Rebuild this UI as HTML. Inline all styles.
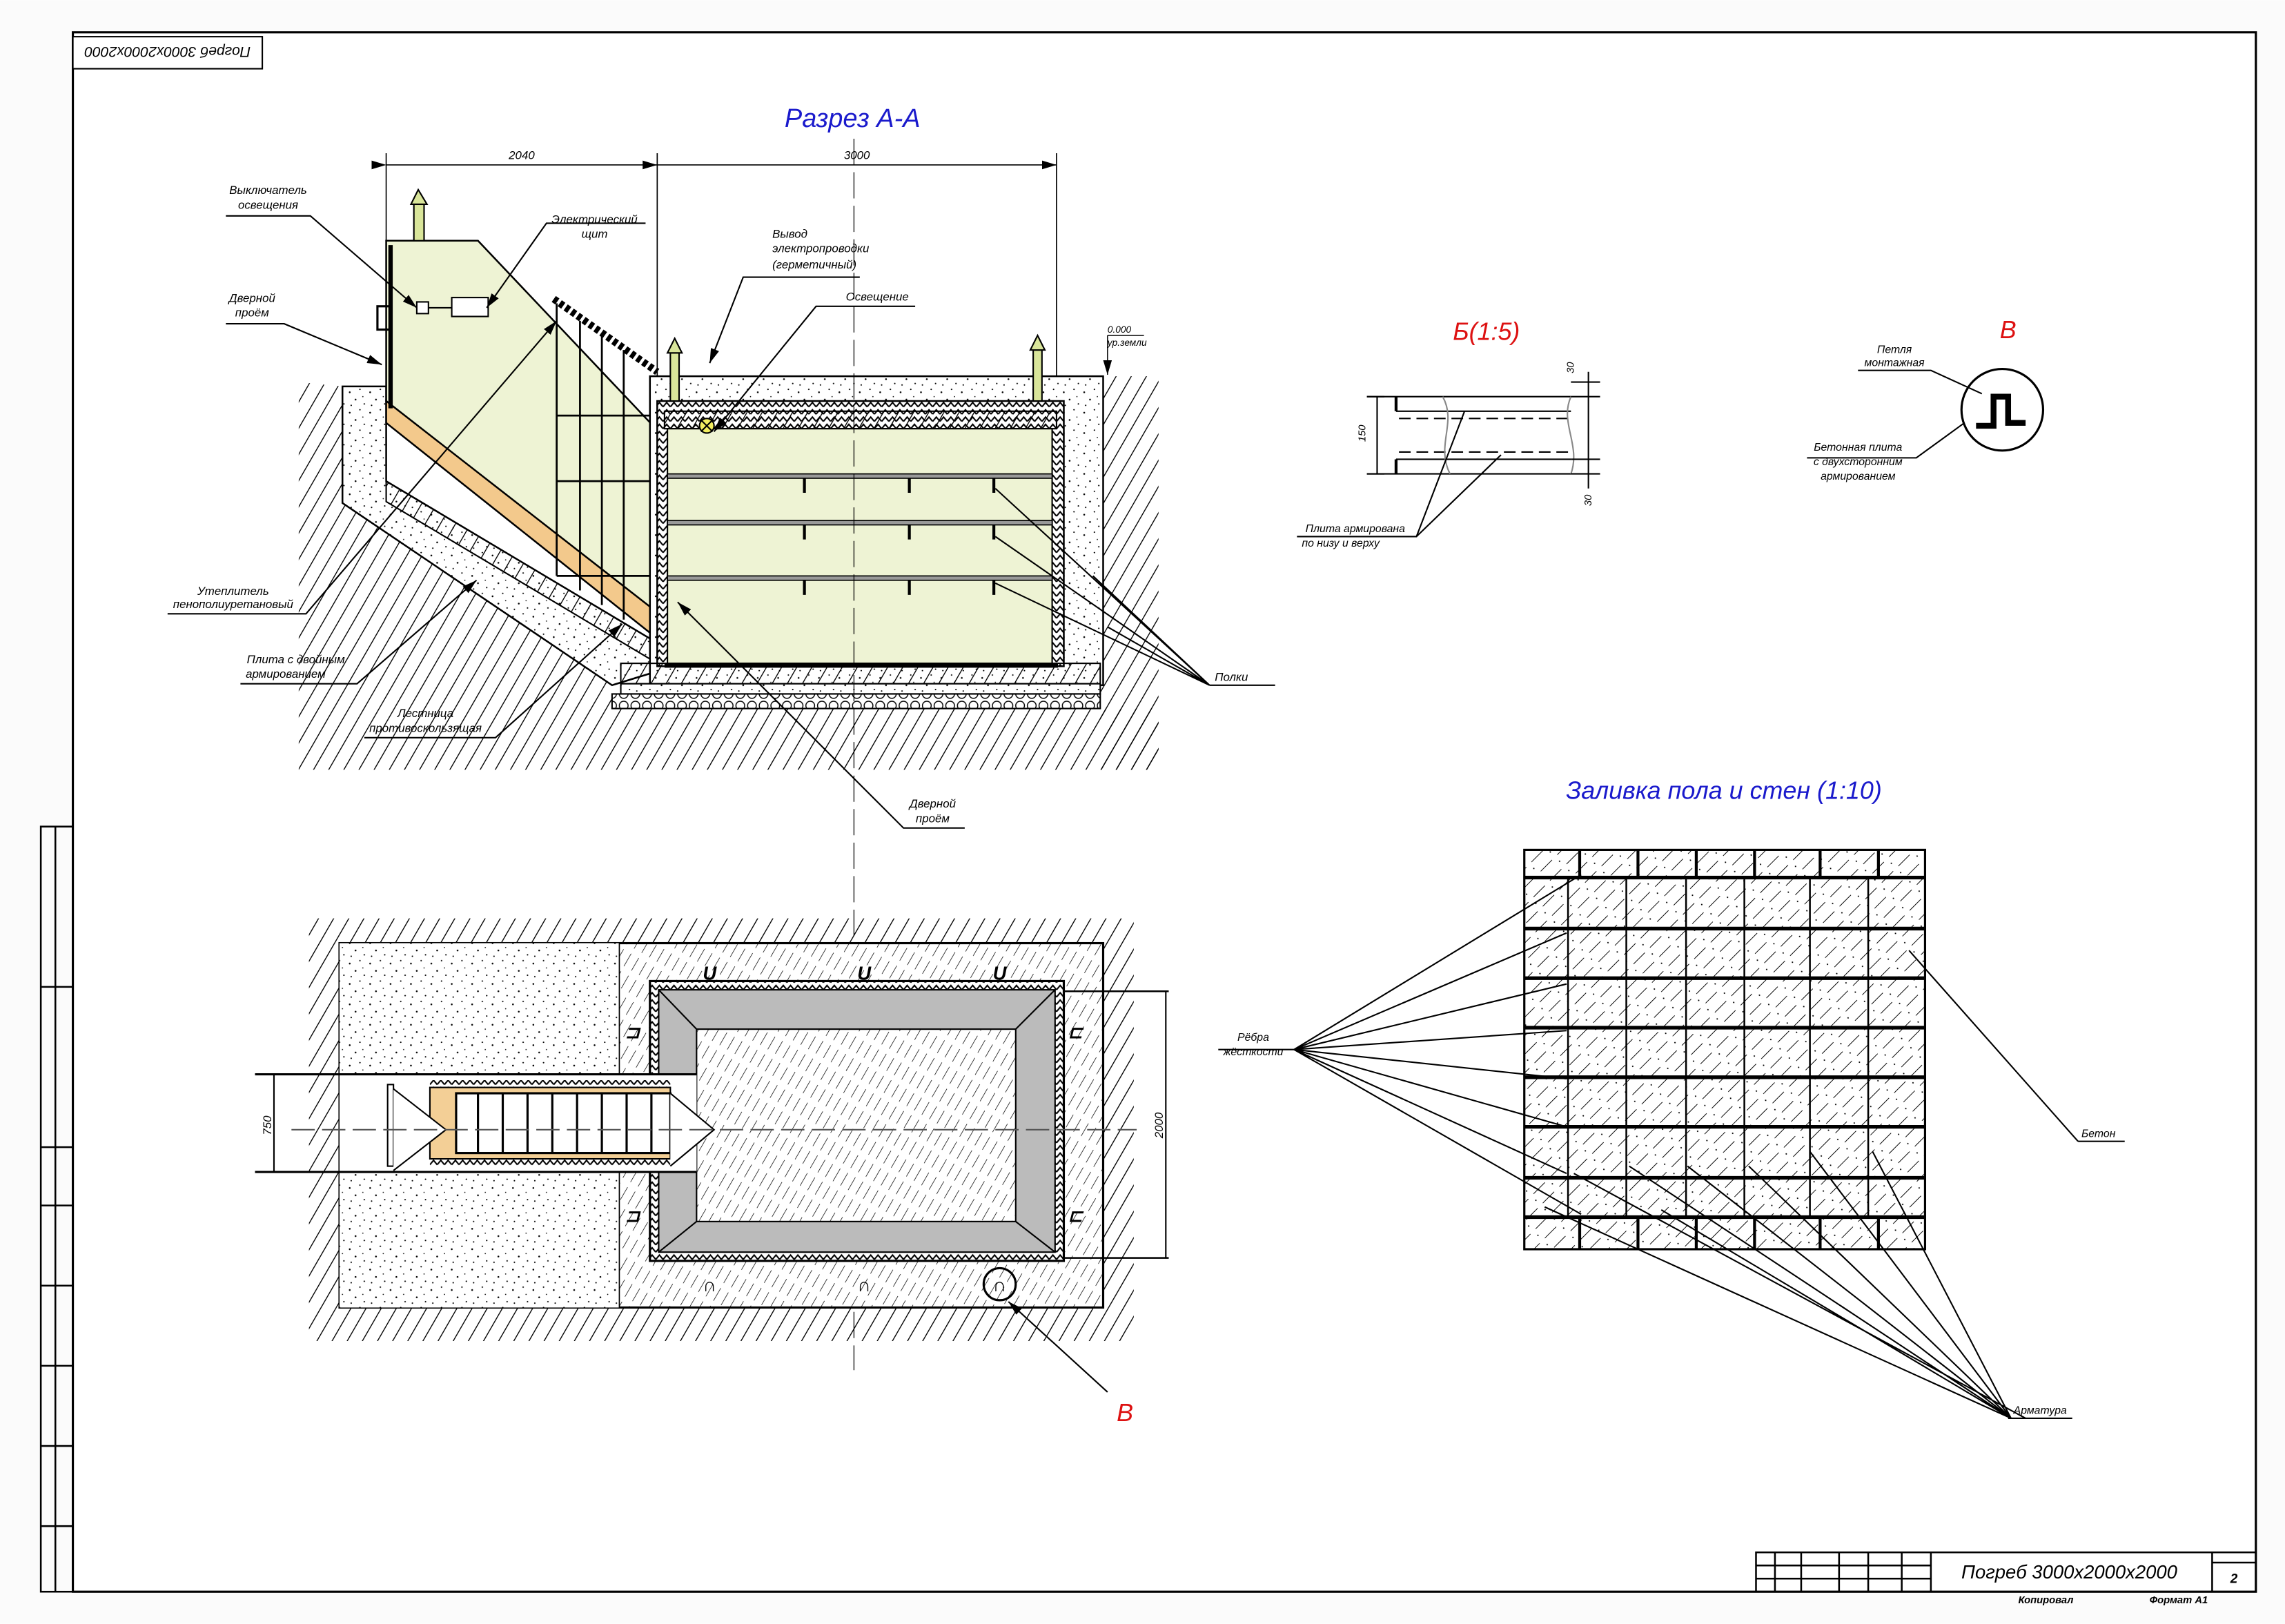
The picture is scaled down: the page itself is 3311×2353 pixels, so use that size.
<!DOCTYPE html>
<html><head><meta charset="utf-8"><style>body{margin:0;background:#fff}svg{display:block}text{font-family:"Liberation Sans",sans-serif;font-style:italic}</style></head><body>
<svg width="3311" height="2353" viewBox="0 0 1568 1114" xmlns="http://www.w3.org/2000/svg">
<defs>
<pattern id="h" width="9" height="9" patternUnits="userSpaceOnUse" patternTransform="rotate(30)"><line x1="0" y1="0" x2="0" y2="9" stroke="#000" stroke-width="1.3"/></pattern>
<pattern id="hd" width="6" height="14" patternUnits="userSpaceOnUse" patternTransform="rotate(30)"><line x1="0" y1="0" x2="0" y2="10" stroke="#000" stroke-width="0.7"/></pattern>
<pattern id="gh" width="9" height="16" patternUnits="userSpaceOnUse" patternTransform="rotate(45)"><line x1="0" y1="0" x2="0" y2="11" stroke="#000" stroke-width="0.9"/><circle cx="4.5" cy="13" r=".5"/></pattern>
<pattern id="dots" width="14" height="14" patternUnits="userSpaceOnUse"><rect width="14" height="14" fill="#fff"/><circle cx="2" cy="3" r=".6"/><circle cx="9" cy="1" r=".5"/><circle cx="6" cy="8" r=".6"/><circle cx="12" cy="11" r=".5"/><circle cx="3" cy="12" r=".5"/><circle cx="11" cy="6" r=".4"/></pattern>
<pattern id="zig" width="5" height="5" patternUnits="userSpaceOnUse"><rect width="5" height="5" fill="#fff"/><path d="M0 4 L2.5 1 L5 4" fill="none" stroke="#000" stroke-width="1"/></pattern>
<pattern id="grav" width="8" height="8" patternUnits="userSpaceOnUse"><rect width="8" height="8" fill="#fff"/><circle cx="4" cy="4" r="3" fill="none" stroke="#000" stroke-width=".7"/></pattern>
<marker id="a" markerWidth="10" markerHeight="6" refX="10" refY="3" orient="auto" markerUnits="userSpaceOnUse"><path d="M0 0 L10 3 L0 6z"/></marker>
</defs>
<rect width="1568" height="1114" fill="#fbfbfb"/>
<rect x="50" y="22" width="1498" height="1070" fill="#fff" stroke="#000" stroke-width="1.5"/>
<rect x="50" y="25" width="130" height="22" fill="#fff" stroke="#000"/>
<text x="115" y="36" font-size="10" text-anchor="middle" transform="rotate(180 115 36)" dy="4">Погреб 3000х2000х2000</text>
<g fill="none" stroke="#000" stroke-width="1.2"><rect x="28" y="567" width="22" height="525"/><line x1="38" y1="567" x2="38" y2="1092"/><line x1="28" y1="677" x2="50" y2="677"/><line x1="28" y1="787" x2="50" y2="787"/><line x1="28" y1="827" x2="50" y2="827"/><line x1="28" y1="882" x2="50" y2="882"/><line x1="28" y1="937" x2="50" y2="937"/><line x1="28" y1="992" x2="50" y2="992"/><line x1="28" y1="1047" x2="50" y2="1047"/></g>
<g fill="none" stroke="#000" stroke-width="1.2"><rect x="1205" y="1065" width="343" height="27"/><line x1="1325" y1="1065" x2="1325" y2="1092"/><line x1="1518" y1="1065" x2="1518" y2="1092"/><line x1="1205" y1="1074" x2="1325" y2="1074"/><line x1="1205" y1="1083" x2="1325" y2="1083"/><line x1="1218" y1="1065" x2="1218" y2="1092"/><line x1="1236" y1="1065" x2="1236" y2="1092"/><line x1="1262" y1="1065" x2="1262" y2="1092"/><line x1="1282" y1="1065" x2="1282" y2="1092"/><line x1="1305" y1="1065" x2="1305" y2="1092"/><line x1="1518" y1="1072" x2="1548" y2="1072"/></g>
<text x="1420" y="1083" font-size="13" text-anchor="middle">Погреб 3000х2000х2000</text>
<text x="1533" y="1086" font-size="9" text-anchor="middle" font-weight="bold">2</text>
<text x="1385" y="1100" font-size="7" font-weight="bold">Копировал</text><text x="1475" y="1100" font-size="7" font-weight="bold">Формат А1</text>

<text x="585" y="87" font-size="18" fill="#1a1acc" text-anchor="middle">Разрез А-А</text>
<g stroke="#000" stroke-width=".8"><line x1="265" y1="105" x2="265" y2="270"/><line x1="451" y1="105" x2="451" y2="260"/><line x1="725" y1="105" x2="725" y2="258"/>
<line x1="265" y1="113" x2="451" y2="113" marker-start="url(#a)" marker-end="url(#a)"/><line x1="451" y1="113" x2="725" y2="113" marker-end="url(#a)"/></g>
<text x="358" y="109" font-size="8" text-anchor="middle" font-style="normal">2040</text><text x="588" y="109" font-size="8" text-anchor="middle" font-style="normal">3000</text>
<path d="M205 262 L235 265 L235 345 L420 470 L420 528 L205 528Z" fill="url(#h)"/>
<rect x="420" y="486" width="375" height="42" fill="url(#h)"/>
<rect x="755" y="258" width="40" height="270" fill="url(#h)"/>
<path d="M235 265 L265 265 L265 330 L446 438 L446 462 L420 470 L235 345Z" fill="url(#dots)" stroke="#000" stroke-width="1.2"/>
<path d="M265 330 L446 438 L446 452 L265 344Z" fill="url(#h)" stroke="#000"/>
<path d="M265 165 L328 165 L451 295 L451 430 L265 275Z" fill="#eef3d4" stroke="#000" stroke-width="1.2"/>
<path d="M265 275 L451 420 L451 438 L265 290Z" fill="#f3c98c" stroke="#000" stroke-width="1.2"/>
<line x1="268" y1="168" x2="268" y2="280" stroke="#000" stroke-width="3"/>
<rect x="259" y="210" width="9" height="16" fill="none" stroke="#000" stroke-width="1.5"/>
<rect x="284" y="140" width="7" height="25" fill="#d9e59a" stroke="#000"/><path d="M282 140 L287 130 L293 140Z" fill="#d9e59a" stroke="#000"/>
<rect x="286" y="207" width="8" height="8" fill="#fff" stroke="#000"/><line x1="294" y1="211" x2="310" y2="211" stroke="#000"/><rect x="310" y="204" width="25" height="13" fill="#fff" stroke="#000"/>
<path d="M380 205 L451 255" stroke="#000" stroke-width="5" stroke-dasharray="3 2"/>
<g stroke="#000" stroke-width="1.3"><line x1="382" y1="208" x2="382" y2="395"/><line x1="398" y1="220" x2="398" y2="405"/><line x1="413" y1="230" x2="413" y2="415"/><line x1="428" y1="240" x2="428" y2="425"/><line x1="382" y1="285" x2="451" y2="285"/><line x1="382" y1="330" x2="451" y2="330"/><line x1="382" y1="395" x2="451" y2="395"/></g>
<rect x="446" y="258" width="311" height="212" fill="url(#dots)" stroke="#000" stroke-width="1.2"/>
<rect x="451" y="275" width="279" height="182" fill="url(#zig)" stroke="#000" stroke-width="1.2"/>
<rect x="456" y="282" width="269" height="12" fill="url(#h)" stroke="#000"/>
<rect x="458" y="294" width="264" height="161" fill="#eef3d4" stroke="#000"/>
<g fill="#999" stroke="#000" stroke-width=".8"><rect x="458" y="325" width="264" height="3"/><rect x="458" y="357" width="264" height="3"/><rect x="458" y="395" width="264" height="3"/></g>
<g stroke="#000" stroke-width="2"><path d="M552 328v10M624 328v10M682 328v10M552 360v10M624 360v10M682 360v10M552 398v10M624 398v10M682 398v10"/></g>
<rect x="456" y="455" width="270" height="3" fill="#000"/>
<rect x="426" y="455" width="329" height="14" fill="url(#h)" stroke="#000"/>
<rect x="426" y="469" width="329" height="7" fill="url(#dots)" stroke="#000"/>
<rect x="420" y="476" width="335" height="10" fill="url(#grav)" stroke="#000"/>
<rect x="460" y="242" width="6" height="33" fill="#d9e59a" stroke="#000"/><path d="M458 242 L463 232 L468 242Z" fill="#d9e59a" stroke="#000"/>
<rect x="709" y="240" width="6" height="35" fill="#d9e59a" stroke="#000"/><path d="M707 240 L712 230 L717 240Z" fill="#d9e59a" stroke="#000"/>
<circle cx="485" cy="292" r="5" fill="#f2ee60" stroke="#000"/><path d="M481 288l8 8M489 288l-8 8" stroke="#000"/>
<line x1="586" y1="95" x2="586" y2="940" stroke="#000" stroke-width=".6" stroke-dasharray="18 5"/>
<line x1="760" y1="230" x2="785" y2="230" stroke="#000" stroke-width=".7"/><line x1="760" y1="230" x2="760" y2="257" stroke="#000" stroke-width=".7" marker-end="url(#a)"/>
<text x="760" y="228" font-size="6.5">0.000</text><text x="760" y="237" font-size="6.5">ур.земли</text>
<g stroke="#000" stroke-width="1" fill="none">
<path d="M155 148 H213 L286 211" marker-end="url(#a)"/>
<path d="M443 153 H375 L334 211" marker-end="url(#a)"/>
<path d="M155 222 H195 L262 250" marker-end="url(#a)"/>
<path d="M530 190 H590 L510 190 L487 249" marker-end="url(#a)"/>
<path d="M576 210 H628 L560 210 L490 296" marker-end="url(#a)"/>
<path d="M115 421 H210 L382 220" marker-end="url(#a)"/>
<path d="M165 469 H245 L327 398" marker-end="url(#a)"/>
<path d="M250 506 H340 L427 428" marker-end="url(#a)"/>
<path d="M620 568 H662 L620 568 L465 413" marker-end="url(#a)"/>
<path d="M830 470 H875 M830 470 L683 335 M830 470 L683 368 M830 470 L683 400 M830 470 L750 395 M830 470 L760 430"/>
</g>
<g font-size="8" text-anchor="middle"><text x="184" y="133">Выключатель</text><text x="184" y="143">освещения</text>
<text x="408" y="153">Электрический</text><text x="408" y="163">щит</text>
<text x="173" y="207">Дверной</text><text x="173" y="217">проём</text>
<text x="530" y="163" text-anchor="start">Вывод</text><text x="530" y="173" text-anchor="start">электропроводки</text><text x="530" y="184" text-anchor="start">(герметичный)</text>
<text x="602" y="206">Освещение</text>
<text x="160" y="408">Утеплитель</text><text x="160" y="417">пенополиуретановый</text>
<text x="203" y="455">Плита с двойным</text><text x="196" y="465">армированием</text>
<text x="292" y="492">Лестница</text><text x="292" y="502">противоскользящая</text>
<text x="640" y="554">Дверной</text><text x="640" y="564">проём</text>
<text x="845" y="467">Полки</text></g>

<rect x="212" y="630" width="566" height="290" fill="url(#h)"/>
<rect x="233" y="647" width="524" height="250" fill="#fff" stroke="#000" stroke-width="1.5"/>
<rect x="233" y="647" width="192" height="250" fill="url(#dots)"/>
<rect x="425" y="647" width="332" height="250" fill="url(#hd)" stroke="#000" stroke-width=".8"/>
<rect x="446" y="673" width="284" height="192" fill="url(#zig)" stroke="#000" stroke-width="1.5"/>
<rect x="452" y="679" width="272" height="180" fill="#bbb" stroke="#000"/>
<rect x="478" y="706" width="219" height="132" fill="#fff"/><rect x="478" y="706" width="219" height="132" fill="url(#hd)" stroke="#000"/>
<path d="M452 679 L478 706 M724 679 L697 706 M452 859 L478 838 M724 859 L697 838" stroke="#000"/>
<rect x="233" y="737" width="245" height="67" fill="#fff"/>
<rect x="295" y="741" width="165" height="59" fill="url(#zig)"/>
<rect x="295" y="746" width="165" height="49" fill="#f3cf96" stroke="#000"/>
<rect x="313" y="750" width="147" height="41" fill="#fff" stroke="#000" stroke-width="1.5"/>
<g stroke="#000" stroke-width="1.5"><path d="M328 750v41M345 750v41M362 750v41M379 750v41M396 750v41M413 750v41M430 750v41M447 750v41"/></g>
<path d="M460 750 L490 775 L460 800" fill="#fff" stroke="#000"/>
<rect x="266" y="744" width="4" height="56" fill="#fff" stroke="#000"/><path d="M270 747 L306 775 L270 803" fill="#fff" stroke="#000"/>
<line x1="175" y1="737" x2="478" y2="737" stroke="#000" stroke-width="1.5"/><line x1="175" y1="804" x2="478" y2="804" stroke="#000" stroke-width="1.5"/>
<line x1="188" y1="737" x2="188" y2="804" stroke="#000"/><text x="186" y="772" font-size="8" font-style="normal" transform="rotate(-90 186 772)" text-anchor="middle">750</text>
<line x1="200" y1="775" x2="780" y2="775" stroke="#555" stroke-dasharray="16 5"/>
<line x1="730" y1="680" x2="802" y2="680" stroke="#000" stroke-width="1.2"/><line x1="730" y1="863" x2="802" y2="863" stroke="#000" stroke-width="1.2"/>
<line x1="800" y1="680" x2="800" y2="863" stroke="#000"/><text x="798" y="772" font-size="8" font-style="normal" transform="rotate(-90 798 772)" text-anchor="middle">2000</text>
<g font-size="13" font-style="normal" font-weight="bold" text-anchor="middle"><text x="487" y="672">U</text><text x="593" y="672">U</text><text x="686" y="672">U</text><text x="487" y="886">∩</text><text x="593" y="886">∩</text><text x="686" y="886">∩</text></g>
<g font-size="12" font-weight="bold"><text x="429" y="712">⊐</text><text x="429" y="838">⊐</text><text x="733" y="712">⊏</text><text x="733" y="838">⊏</text></g>
<circle cx="686" cy="881" r="11" fill="none" stroke="#000" stroke-width="1.5"/>
<line x1="760" y1="955" x2="692" y2="893" stroke="#000" marker-end="url(#a)"/>
<text x="772" y="975" font-size="17" fill="#d11" text-anchor="middle">В</text>

<text x="1020" y="233" font-size="17" fill="#d11" text-anchor="middle">Б(1:5)</text>
<g stroke="#000" fill="none" stroke-width="1"><path d="M938 272 H1078 M938 325 H1078"/><path d="M958 282 H1078 M958 315 H1078"/><path d="M958 272V282M958 315V325" stroke-width="2"/><path d="M960 287 H1078 M960 310 H1078" stroke-dasharray="8 4"/><path d="M990 272 C1000 290,985 305,995 325" stroke="#888"/><path d="M1078 272 C1070 290,1085 305,1078 325" stroke="#888"/>
<path d="M1078 262 H1098 M1078 272 H1098 M1078 315 H1098 M1078 325 H1098 M1090 255V335 M945 272V325 M938 272H950 M938 325H950"/>
<path d="M890 368 H972 L1005 282 M972 368 L1030 312"/></g>
<text x="1080" y="256" font-size="7" transform="rotate(-90 1080 256)" font-style="normal">30</text><text x="1092" y="347" font-size="7" transform="rotate(-90 1092 347)" font-style="normal">30</text><text x="937" y="303" font-size="7" transform="rotate(-90 937 303)" font-style="normal">150</text>
<text x="930" y="365" font-size="7.5" text-anchor="middle">Плита армирована</text><text x="920" y="375" font-size="7.5" text-anchor="middle">по низу и верху</text>
<text x="1378" y="232" font-size="17" fill="#d11" text-anchor="middle">В</text>
<circle cx="1374" cy="281" r="28" fill="#fff" stroke="#000" stroke-width="1.5"/>
<path d="M1356 292 H1368 V272 H1378 V290 H1390" fill="none" stroke="#000" stroke-width="4"/>
<g stroke="#000" fill="none"><path d="M1275 254 H1325 L1360 270"/><path d="M1240 314 H1315 L1348 290"/></g>
<g font-size="7.5" text-anchor="middle"><text x="1300" y="242">Петля</text><text x="1300" y="251">монтажная</text><text x="1275" y="309">Бетонная плита</text><text x="1275" y="319">с двухсторонним</text><text x="1275" y="329">армированием</text></g>

<text x="1183" y="548" font-size="17" fill="#1a1acc" text-anchor="middle">Заливка пола и стен (1:10)</text>
<rect x="1046" y="583" width="275" height="274" fill="#fff"/>
<rect x="1046" y="583" width="275" height="274" fill="url(#gh)" stroke="#000" stroke-width="1.5"/>
<g stroke="#000" stroke-width="2.5"><path d="M1046 602H1321M1046 637H1321M1046 671H1321M1046 705H1321M1046 739H1321M1046 773H1321M1046 808H1321M1046 835H1321"/></g>
<g stroke="#000" stroke-width="1.2"><path d="M1076 602v233M1116 602v233M1157 602v233M1197 602v233M1242 602v233M1282 602v233"/>
<path d="M1084 583v19M1124 583v19M1164 583v19M1204 583v19M1249 583v19M1289 583v19M1084 835v22M1124 835v22M1164 835v22M1204 835v22M1249 835v22M1289 835v22" stroke-width="2"/></g>
<g stroke="#000" fill="none" stroke-width="1"><path d="M888 720 L1085 600M888 720 L1075 640M888 720 L1075 675M888 720 L1075 707M888 720 L1075 740M888 720 L1075 773M888 720 L1075 805M888 720 L1085 833"/>
<path d="M1390 973 L1080 805M1380 973 L1118 800M1380 973 L1158 800M1380 973 L1200 800M1380 973 L1242 790M1380 973 L1285 790M1380 973 L1140 830M1380 973 L1060 828"/>
<path d="M1426 783 H1458 M1426 783 L1310 652"/><path d="M836 720 H888"/><path d="M1378 973 H1422"/></g>
<text x="860" y="714" font-size="7.5" text-anchor="middle">Рёбра</text><text x="860" y="724" font-size="7.5" text-anchor="middle">жёсткости</text>
<text x="1440" y="780" font-size="7.5" text-anchor="middle">Бетон</text><text x="1400" y="970" font-size="7.5" text-anchor="middle">Арматура</text>
</svg>
</body></html>
